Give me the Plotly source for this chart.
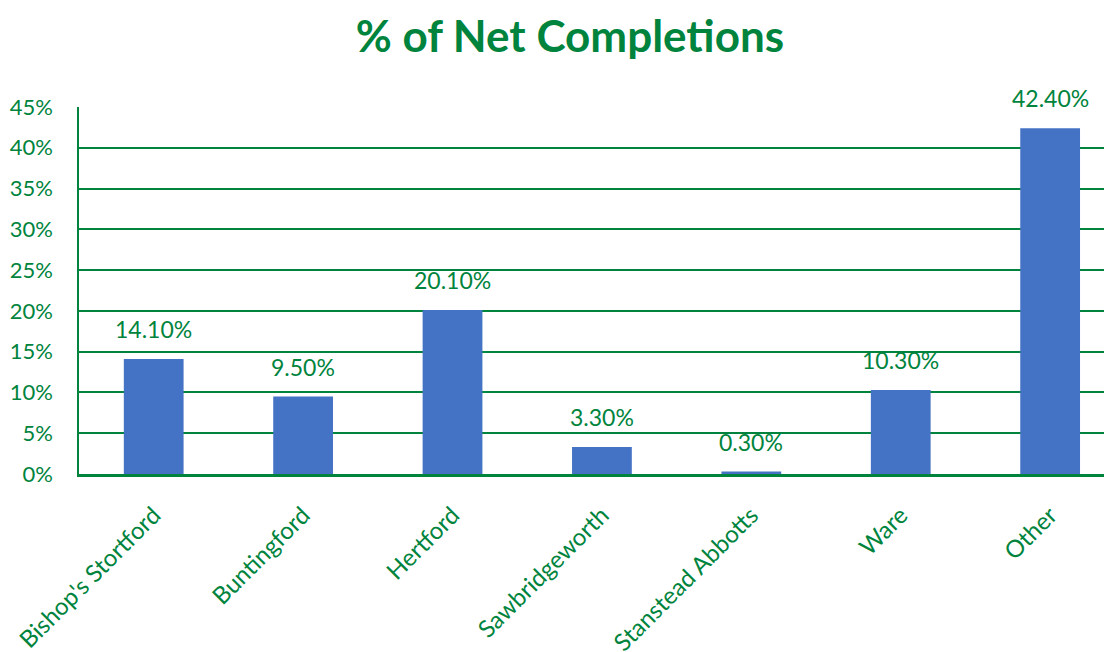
import plotly.graph_objects as go

categories = ["Bishop's Stortford", "Buntingford", "Hertford", "Sawbridgeworth",
              "Stanstead Abbotts", "Ware", "Other"]
values = [14.1, 9.5, 20.1, 3.3, 0.3, 10.3, 42.4]
y_ticks = [0, 5, 10, 15, 20, 25, 30, 35, 40, 45]

GREEN = "#00843D"
BLUE = "#4472C4"
FONT = "Lato, 'Open Sans', sans-serif"

fig = go.Figure()
fig.add_trace(go.Bar(
    x=categories, y=values, marker=dict(color=BLUE, line=dict(width=0)),
    hoverinfo="skip",
))

for c, v in zip(categories, values):
    fig.add_annotation(x=c, y=v, text=f"{v:.2f}%", showarrow=False,
                       yanchor="bottom", yshift=14,
                       font=dict(color=GREEN, size=23, family=FONT))

fig.update_layout(
    width=1104, height=644,
    margin=dict(l=71, r=0, t=99, b=178),
    paper_bgcolor="white", plot_bgcolor="white",
    bargap=0.6,
    showlegend=False,
    title=dict(text="<b>% of Net Completions</b>", x=0.509, xanchor="center",
               y=0.955, yanchor="middle",
               font=dict(color=GREEN, size=44, family=FONT)),
    font=dict(family=FONT, color=GREEN),
)
fig.update_yaxes(range=[0, 45], tickvals=y_ticks, ticktext=[f"{t}%" for t in y_ticks],
                 showgrid=True, gridcolor=GREEN, gridwidth=1.5,
                 showline=True, linecolor=GREEN, linewidth=1.5,
                 zeroline=False, ticklabelstandoff=20, automargin=False,
                 tickfont=dict(size=22, color=GREEN, family=FONT))
fig.update_xaxes(showline=True, linecolor=GREEN, linewidth=2.5,
                 range=[-0.5, 6.414], automargin=False,
                 tickangle=-45, ticklabelstandoff=15,
                 tickfont=dict(size=24, color=GREEN, family=FONT))

fig.write_html("out.html")
